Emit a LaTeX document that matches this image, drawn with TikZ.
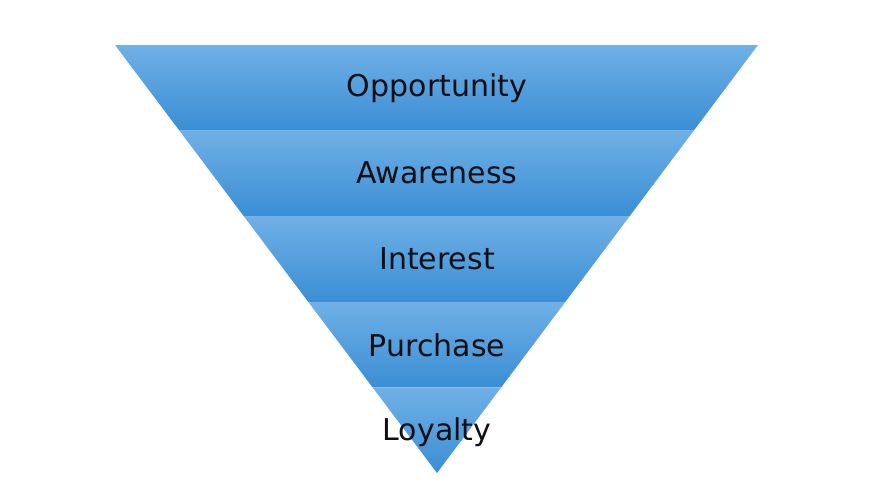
\documentclass[tikz,border=0pt]{standalone}
\usepackage{fontspec}
\setmainfont{DejaVu Sans}
\definecolor{bandtop}{RGB}{112,176,230}
\definecolor{bandbot}{RGB}{58,142,212}
\definecolor{txt}{RGB}{15,15,20}
\tikzset{
  band/.style={shade, top color=bandtop, bottom color=bandbot, draw=none},
  lbl/.style={font=\fontsize{30}{33}\selectfont, text=txt, inner sep=0pt, anchor=center}
}
\begin{document}
\begin{tikzpicture}[x=1pt,y=-1pt]
\useasboundingbox (0,0) rectangle (870,483);
\fill[white] (0,0) rectangle (870,483);
\path[band] (115,45) -- (758,45) -- (693.8,130.6) -- (179.4,130.6) -- cycle;
\path[band] (179.4,130.6) -- (693.8,130.6) -- (629.6,216.2) -- (243.8,216.2) -- cycle;
\path[band] (243.8,216.2) -- (629.6,216.2) -- (565.4,301.8) -- (308.2,301.8) -- cycle;
\path[band] (308.2,301.8) -- (565.4,301.8) -- (501.2,387.4) -- (372.6,387.4) -- cycle;
\path[band] (372.6,387.4) -- (501.2,387.4) -- (437,473) -- cycle;
\node[lbl] (opp) at (437,88) {Opportunity};
\node[lbl] (awa) at (437,173) {Awareness};
\node[lbl] (int) at (437,259) {Interest};
\node[lbl] (pur) at (437,345) {Purchase};
\node[lbl] (loy) at (437,432) {Loyalty};
\end{tikzpicture}
\end{document}
